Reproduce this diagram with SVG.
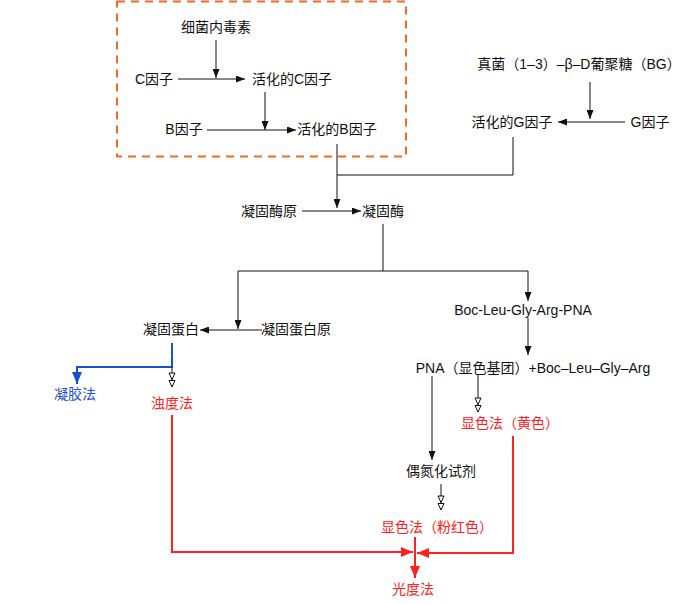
<svg xmlns="http://www.w3.org/2000/svg" width="693" height="604" viewBox="0 0 693 604">
<style>
text{font-family:"Liberation Sans","Noto Sans CJK SC",sans-serif;font-size:14px;text-anchor:middle;fill:#111}
.red{fill:#ff2020}
.blue{fill:#1a4fd0}
.ln{fill:none;stroke:#111;stroke-width:1}
.rl{fill:none;stroke:#ff2020;stroke-width:2}
.bl{fill:none;stroke:#1a4fd0;stroke-width:2}
</style>
<defs>
<marker id="ab" markerUnits="userSpaceOnUse" markerWidth="9" markerHeight="7" viewBox="0 0 9 7" refX="9" refY="3.5" orient="auto"><path d="M0,0 L9,3.5 L0,7 z" fill="#111"/></marker>
<marker id="ar" markerUnits="userSpaceOnUse" markerWidth="12" markerHeight="10" viewBox="0 0 12 10" refX="12" refY="5" orient="auto"><path d="M0,0 L12,5 L0,10 z" fill="#ff2020"/></marker>
<marker id="abl" markerUnits="userSpaceOnUse" markerWidth="12" markerHeight="10" viewBox="0 0 12 10" refX="12" refY="5" orient="auto"><path d="M0,0 L12,5 L0,10 z" fill="#1a4fd0"/></marker>
<marker id="ao" markerUnits="userSpaceOnUse" markerWidth="16" markerHeight="8" viewBox="0 0 16 8" refX="15" refY="4" orient="auto"><path d="M1,1 L7.5,4 L1,7 z M8.5,1 L15,4 L8.5,7 z" fill="#fff" stroke="#111" stroke-width="1"/></marker>
</defs>
<rect x="117" y="1.5" width="289" height="155" fill="none" stroke="#f26a2a" stroke-width="2" stroke-dasharray="8,6"/>
<g id="connectors">
<path class="ln" d="M216,40 V78" marker-end="url(#ab)"/>
<path class="ln" d="M178,79 H245" marker-end="url(#ab)"/>
<path class="ln" d="M265,92 V130" marker-end="url(#ab)"/>
<path class="ln" d="M207,130 H296" marker-end="url(#ab)"/>
<path class="ln" d="M590,82 V119" marker-end="url(#ab)"/>
<path class="ln" d="M625,122 H558" marker-end="url(#ab)"/>
<path class="ln" d="M337,144 V208" marker-end="url(#ab)"/>
<path class="ln" d="M513,137 V175 H337"/>
<path class="ln" d="M302,211 H361" marker-end="url(#ab)"/>
<path class="ln" d="M383,224 V271"/>
<path class="ln" d="M238,271 H528 V301" marker-end="url(#ab)"/>
<path class="ln" d="M238,271 V329" marker-end="url(#ab)"/>
<path class="ln" d="M262,330 H200" stroke-width="1.6" marker-end="url(#ab)"/>
<path class="ln" d="M528,318 V355" marker-end="url(#ab)"/>
<path class="bl" d="M172,343 V367 H77 V384" marker-end="url(#abl)"/>
<path class="ln" d="M172,367 V387" marker-end="url(#ao)"/>
<path class="ln" d="M478,375 V412" stroke-width="2" marker-end="url(#ao)"/>
<path class="ln" d="M432,376 V460" marker-end="url(#ab)"/>
<path class="ln" d="M441,484 V510" stroke="#777" marker-end="url(#ao)"/>
<path class="rl" d="M172,415 V552 H413" marker-end="url(#ar)"/>
<path class="rl" d="M513,436 V553 H417" marker-end="url(#ar)"/>
<path class="rl" d="M415,537 V578" marker-end="url(#ar)"/>
</g>
<g id="n1"><text x="216" y="32">细菌内毒素</text></g>
<g id="n2"><text x="154" y="84">C因子</text></g>
<g id="n3"><text x="292" y="84">活化的C因子</text></g>
<g id="n4"><text x="184" y="134">B因子</text></g>
<g id="n5"><text x="337" y="134">活化的B因子</text></g>
<g id="n6"><text x="579" y="69">真菌（1–3）–β–D葡聚糖（BG）</text></g>
<g id="n7"><text x="512" y="127">活化的G因子</text></g>
<g id="n8"><text x="650" y="127">G因子</text></g>
<g id="n9"><text x="269" y="216">凝固酶原</text></g>
<g id="n10"><text x="383" y="216">凝固酶</text></g>
<g id="n11"><text x="523" y="315">Boc-Leu-Gly-Arg-PNA</text></g>
<g id="n12"><text x="171" y="334">凝固蛋白</text></g>
<g id="n13"><text x="296" y="334">凝固蛋白原</text></g>
<g id="n14"><text x="533" y="373">PNA（显色基团）+Boc–Leu–Gly–Arg</text></g>
<g id="n15"><text class="blue" x="75" y="399">凝胶法</text></g>
<g id="n16"><text class="red" x="172" y="408">浊度法</text></g>
<g id="n17"><text class="red" x="510" y="428">显色法（黄色）</text></g>
<g id="n18"><text x="441" y="476">偶氮化试剂</text></g>
<g id="n19"><text class="red" x="437" y="532">显色法（粉红色）</text></g>
<g id="n20"><text class="red" x="413" y="594">光度法</text></g>
</svg>
